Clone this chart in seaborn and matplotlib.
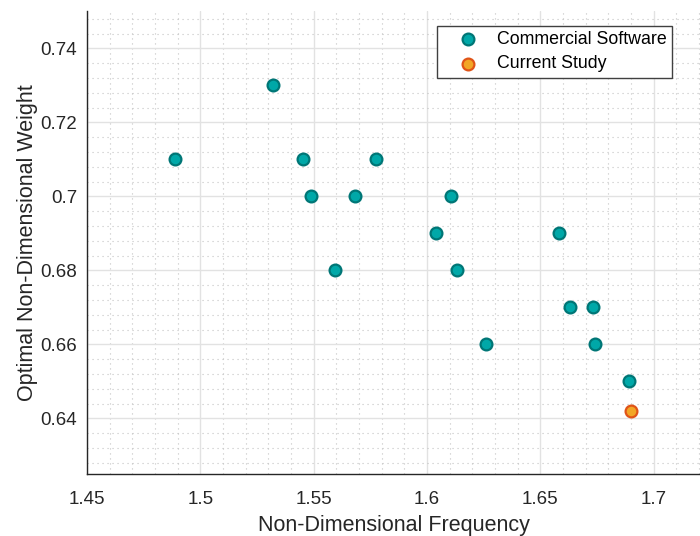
import matplotlib
matplotlib.use("Agg")
import matplotlib.pyplot as plt
import seaborn as sns
import pandas as pd
from matplotlib.ticker import MultipleLocator

commercial_freq = [1.489, 1.532, 1.5454, 1.5488, 1.5595, 1.5684, 1.5775, 1.604,
                   1.6106, 1.6132, 1.626, 1.658, 1.663, 1.673, 1.674, 1.689]
commercial_weight = [0.71, 0.73, 0.71, 0.70, 0.68, 0.70, 0.71, 0.69,
                     0.70, 0.68, 0.66, 0.69, 0.67, 0.67, 0.66, 0.65]
study_freq = [1.690]
study_weight = [0.642]
series_names = ["Commercial Software", "Current Study"]
x_ticks = [1.45, 1.5, 1.55, 1.6, 1.65, 1.7]
x_tick_labels = ["1.45", "1.5", "1.55", "1.6", "1.65", "1.7"]
y_ticks = [0.64, 0.66, 0.68, 0.70, 0.72, 0.74]
y_tick_labels = ["0.64", "0.66", "0.68", "0.7", "0.72", "0.74"]

df_c = pd.DataFrame({"f": commercial_freq, "w": commercial_weight})
df_s = pd.DataFrame({"f": study_freq, "w": study_weight})

sns.set_style("white")
plt.rcParams['font.family'] = ['Liberation Sans', 'DejaVu Sans']
txt = "#262626"

fig = plt.figure(figsize=(7.0, 5.36), dpi=100)
ax = fig.add_axes([87/700, 62/536, 1 - 87/700, (474 - 11)/536])

sns.scatterplot(data=df_c, x="f", y="w", ax=ax, s=72, color="#00A8A8",
                edgecolor="#007676", linewidth=1.6, label=series_names[0], zorder=3)
sns.scatterplot(data=df_s, x="f", y="w", ax=ax, s=72, color="#F2A626",
                edgecolor="#E05418", linewidth=1.6, label=series_names[1], zorder=3)

ax.set_xlim(1.45, 1.7204)
ax.set_ylim(0.625, 0.7501)
ax.set_xticks(x_ticks)
ax.set_xticklabels(x_tick_labels)
ax.set_yticks(y_ticks)
ax.set_yticklabels(y_tick_labels)
ax.xaxis.set_minor_locator(MultipleLocator(0.01))
ax.yaxis.set_minor_locator(MultipleLocator(0.004))

ax.grid(which="major", color="#e2e2e2", linewidth=1.0, linestyle="-", zorder=0)
ax.grid(which="minor", color="#c4c4c4", linewidth=0.8, linestyle=(0, (1, 3.5)), zorder=0)
ax.set_axisbelow(True)

for s in ["top", "right"]:
    ax.spines[s].set_visible(False)
for s in ["left", "bottom"]:
    ax.spines[s].set_color("#262626")
    ax.spines[s].set_linewidth(1.0)

ax.tick_params(which="major", direction="in", length=5, width=0.9, colors="#262626",
               labelsize=13.5, labelcolor=txt)
ax.tick_params(axis="y", which="major", pad=7)
ax.tick_params(axis="x", which="major", pad=12)
ax.tick_params(which="minor", length=0)

ax.set_xlabel("Non-Dimensional Frequency", fontsize=15.5, color=txt, labelpad=5)
ax.set_ylabel("Optimal Non-Dimensional Weight", fontsize=15.5, color=txt, labelpad=2)

leg = ax.legend(loc="upper right", bbox_to_anchor=(671.7/700, 1 - 25.5/536),
                bbox_transform=fig.transFigure, frameon=True, fancybox=False,
                framealpha=1, edgecolor="#404040", fontsize=12.8, handletextpad=0.15,
                borderpad=0.3, labelspacing=0.42, handlelength=2.9, borderaxespad=0)
leg.get_frame().set_linewidth(1.0)
for t in leg.get_texts():
    t.set_color("#000000")

fig.savefig("out.png", dpi=100)
